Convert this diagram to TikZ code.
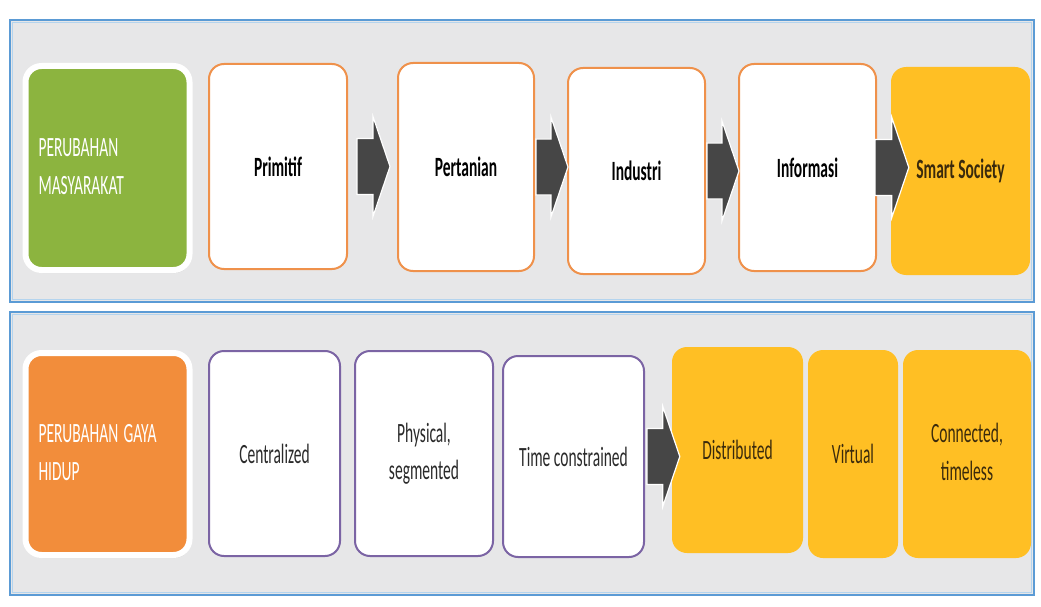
\documentclass[tikz,border=0pt]{standalone}
\usepackage{fontspec}
\setmainfont{Carlito}
\usetikzlibrary{calc,shadows}

\definecolor{panelbg}{HTML}{E7E7E8}
\definecolor{panelline}{HTML}{5B9BD5}
\definecolor{panellight}{HTML}{B4D4EE}
\definecolor{labgreen}{HTML}{8CB43F}
\definecolor{laborange}{HTML}{F28D3B}
\definecolor{stepamber}{HTML}{FFBF24}
\definecolor{steporange}{HTML}{EF914B}
\definecolor{steppurple}{HTML}{7B64A4}
\definecolor{arrowgrey}{HTML}{464646}
\definecolor{textdark}{HTML}{2A2A2A}
\definecolor{textbrown}{HTML}{3A2A0C}

% text in this chart is set tall and narrow
\newcommand\tallbox[1]{\scalebox{1}[1.8]{#1}}
\newcommand\twoline[3]{\tallbox{\begin{tabular}{@{}#1@{}}#2\\#3\end{tabular}}}

% block arrow from one box to the next: start offset, tip offset
\newcommand\blockarrow[4]{%
  \draw[blockarrow]
    ($(#1.east)+(#3,-28)$) -- ($(#2.west |- #1.east)+(#4-17,-28)$)
    -- ($(#2.west |- #1.east)+(#4-17,-50)$) -- ($(#2.west |- #1.east)+(#4,0)$)
    -- ($(#2.west |- #1.east)+(#4-17,50)$) -- ($(#2.west |- #1.east)+(#4-17,28)$)
    -- ($(#1.east)+(#3,28)$) -- cycle;}

\tikzset{
  every node/.style={font=\fontsize{15.5}{21}\selectfont, inner sep=0pt},
  panel/.style={fill=panelbg, draw=panelline, line width=2.5pt},
  panelinner/.style={draw=panellight, line width=1.2pt},
  labelbox/.style={rounded corners=16pt, draw=white, line width=6pt,
    text=white, align=left, text width=138pt, inner xsep=13pt,
    drop shadow={shadow xshift=1pt, shadow yshift=-3pt, opacity=0.25}},
  stepbox/.style={rounded corners=15pt, fill=white, line width=2pt, align=center},
  oldstep/.style={stepbox, draw=steporange, font=\fontsize{15.5}{21}\selectfont\bfseries},
  lifestep/.style={stepbox, draw=steppurple, text=textdark},
  newstep/.style={rounded corners=15pt, fill=stepamber, text=textbrown, align=center},
  blockarrow/.style={fill=arrowgrey, draw=white, line width=1.2pt, line join=miter},
}

\begin{document}
\begin{tikzpicture}[x=1pt, y=-1pt]
\useasboundingbox[fill=white] (0,0) rectangle (1041,607);

% two framed bands
\draw[panel] (10,20) rectangle (1034,302);
\draw[panelinner] (12.5,22.5) rectangle (1031.5,299.5);
\draw[panel] (10,312) rectangle (1034,595);
\draw[panelinner] (12.5,314.5) rectangle (1031.5,592.5);

% society row
\node[labelbox, fill=labgreen, minimum height=204pt] (lab1) at (107.5,168)
  {\twoline{l}{PERUBAHAN}{MASYARAKAT}};
\node[oldstep, minimum width=138pt, minimum height=205pt] (p1) at (278,166.5)
  {\tallbox{Primitif}};
\node[oldstep, minimum width=136pt, minimum height=208pt] (p2) at (466,167)
  {\tallbox{Pertanian}};
\node[oldstep, minimum width=137pt, minimum height=206pt] (p3) at (636.5,171)
  {\tallbox{Industri}};
\node[oldstep, minimum width=137pt, minimum height=207pt] (p4) at (807.5,167.5)
  {\tallbox{Informasi}};
\node[newstep, minimum width=139pt, minimum height=208pt,
  font=\fontsize{15.5}{21}\selectfont\bfseries] (p5) at (960.5,171)
  {\tallbox{Smart Society}};

\blockarrow{p1}{p2}{9}{-7}
\blockarrow{p2}{p3}{1}{1}
\blockarrow{p3}{p4}{1}{1}
\blockarrow{p4}{p5}{-2}{18}

% lifestyle row
\node[labelbox, fill=laborange, minimum height=202pt] (lab2) at (107.5,454)
  {\twoline{l}{PERUBAHAN GAYA}{HIDUP}};
\node[lifestep, minimum width=131pt, minimum height=205pt] (c1) at (274.5,453.5)
  {\tallbox{Centralized}};
\node[lifestep, minimum width=138pt, minimum height=205pt] (c2) at (424,453.5)
  {\twoline{c}{Physical,}{segmented}};
\node[lifestep, minimum width=141pt, minimum height=201pt] (c3) at (573.5,456.5)
  {\tallbox{Time constrained}};
\node[newstep, minimum width=131pt, minimum height=206pt] (d1) at (737.5,450)
  {\tallbox{Distributed}};
\node[newstep, minimum width=90pt, minimum height=208pt] (d2) at (853,454)
  {\tallbox{Virtual}};
\node[newstep, minimum width=128pt, minimum height=208pt] (d3) at (967,454)
  {\twoline{c}{Connected,}{timeless}};

\blockarrow{c3}{d1}{2}{8}
\end{tikzpicture}
\end{document}
